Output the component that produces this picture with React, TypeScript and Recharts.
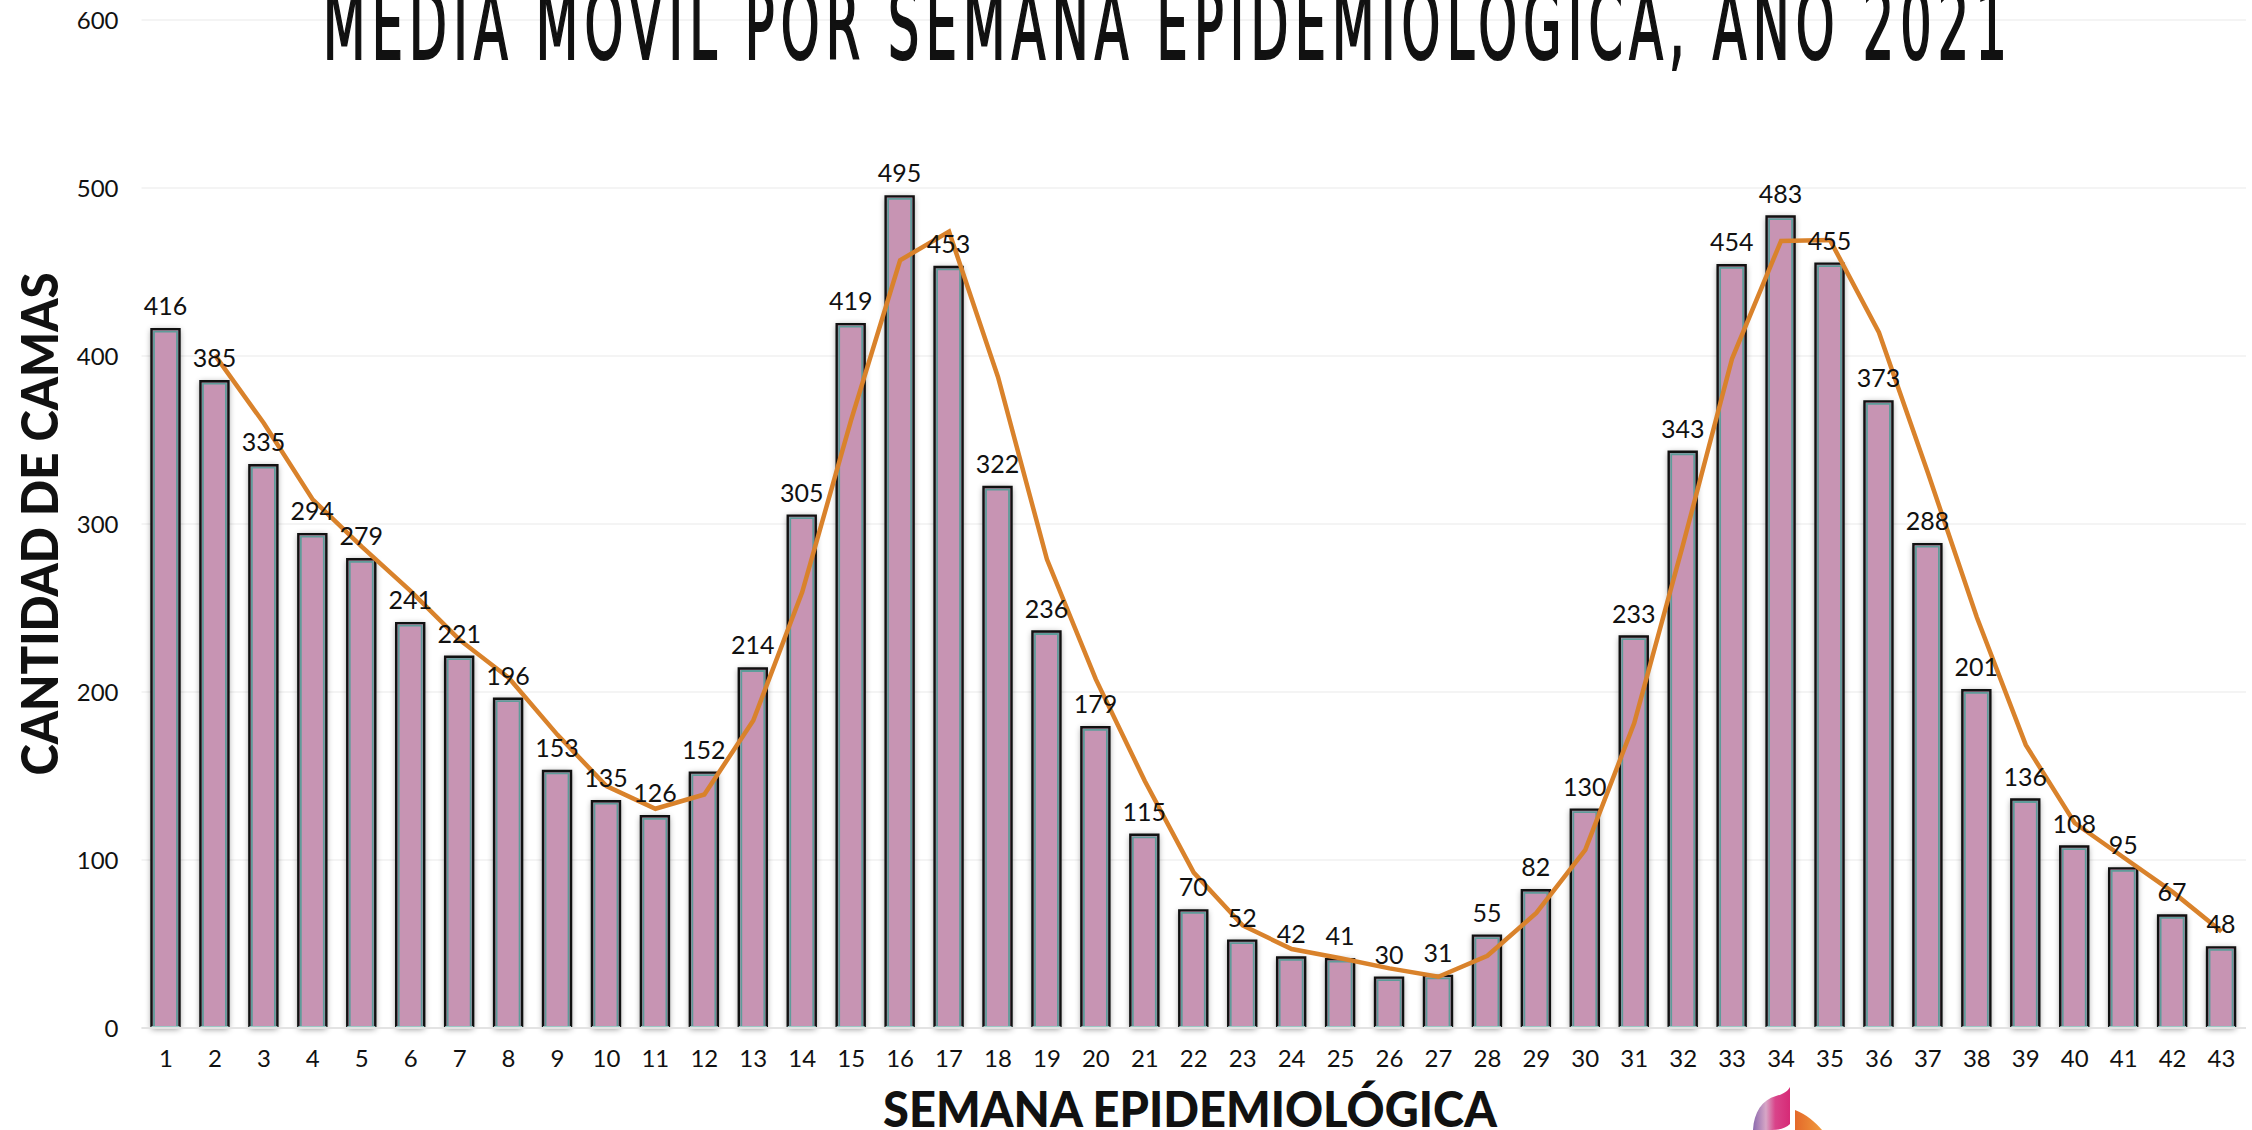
import { ComposedChart, Bar, Line, XAxis, YAxis, CartesianGrid, LabelList } from 'recharts'

// Semana epidemiológica 1..43
const weeks = [
  1, 2, 3, 4, 5, 6, 7, 8, 9, 10, 11, 12, 13, 14, 15, 16, 17, 18, 19, 20, 21, 22,
  23, 24, 25, 26, 27, 28, 29, 30, 31, 32, 33, 34, 35, 36, 37, 38, 39, 40, 41, 42, 43,
]

// Cantidad de camas por semana
const camas = [
  416, 385, 335, 294, 279, 241, 221, 196, 153, 135, 126, 152, 214, 305, 419, 495, 453, 322, 236, 179, 115, 70,
  52, 42, 41, 30, 31, 55, 82, 130, 233, 343, 454, 483, 455, 373, 288, 201, 136, 108, 95, 67, 48,
]

const mediaMovil = [
  null, 400.5, 360, 314.5, 286.5, 260, 231, 208.5, 174.5, 144, 130.5, 139, 183, 259.5, 362, 457, 474, 387.5,
  279, 207.5, 147, 92.5, 61, 47, 41.5, 35.5, 30.5, 43, 68.5, 106, 181.5, 288, 398.5, 468.5, 469, 414, 330.5,
  244.5, 168.5, 122, 101.5, 81, 57.5,
]

const yTicks = [0, 100, 200, 300, 400, 500, 600]

const data = weeks.map((w, i) => ({ week: w, camas: camas[i], media: mediaMovil[i] }))

const FONT = "Lato, 'Noto Sans', sans-serif"

function CamaBar(props: any) {
  const { x, y, width, height } = props
  if (!height || height <= 0) return null
  const b = y + height
  return (
    <g>
      <rect
        x={x}
        y={y}
        width={width}
        height={height}
        fill="#C794B3"
        style={{ filter: 'drop-shadow(0px 1px 3px rgba(0,0,0,0.45))' }}
      />
      <path
        d={`M${x + 2.5},${b} L${x + 2.5},${y + 2.5} L${x + width - 2.5},${y + 2.5} L${x + width - 2.5},${b}`}
        fill="none"
        stroke="#5E9C9A"
        strokeWidth={1.8}
      />
      <path
        d={`M${x},${b} L${x},${y} L${x + width},${y} L${x + width},${b}`}
        fill="none"
        stroke="#111"
        strokeWidth={2.4}
      />
      <line x1={x} x2={x + width} y1={b - 1} y2={b - 1} stroke="#9CC8C6" strokeWidth={2} />
    </g>
  )
}

export default function App() {
  return (
    <div
      style={{
        position: 'fixed',
        left: 0,
        top: 0,
        width: 2252,
        height: 1130,
        background: '#fff',
        overflow: 'hidden',
      }}
    >
      <ComposedChart
        width={2252}
        height={1130}
        data={data}
        margin={{ top: 20, right: 6, bottom: 72, left: 0 }}
      >
        <CartesianGrid vertical={false} stroke="#F1F1F1" strokeWidth={1.5} />
        <XAxis
          dataKey="week"
          height={30}
          tickLine={false}
          tickSize={0}
          tickMargin={22}
          axisLine={{ stroke: '#E3E3E3', strokeWidth: 2 }}
          tick={{ fill: '#111', fontSize: 24, fontFamily: FONT }}
          interval={0}
        />
        <YAxis
          width={141.5}
          domain={[0, 600]}
          ticks={yTicks}
          axisLine={false}
          tickLine={false}
          tickSize={0}
          tickMargin={23}
          tick={{ fill: '#111', fontSize: 24, fontFamily: FONT }}
        />
        <Bar dataKey="camas" barSize={28} shape={<CamaBar />} isAnimationActive={false}>
          <LabelList
            dataKey="camas"
            position="top"
            offset={14}
            fill="#111"
            fontSize={25}
            fontFamily={FONT}
          />
        </Bar>
        <Line
          type="linear"
          dataKey="media"
          stroke="#D9822B"
          strokeWidth={4.5}
          dot={false}
          activeDot={false}
          isAnimationActive={false}
        />
      </ComposedChart>
      <svg
        width={2252}
        height={1130}
        style={{ position: 'absolute', left: 0, top: 0, pointerEvents: 'none' }}
      >
        <defs>
          <linearGradient id="pinkLeaf" x1="0" x2="1" y1="0" y2="0">
            <stop offset="0" stopColor="#8B6AAE" />
            <stop offset="0.35" stopColor="#D7A6C6" />
            <stop offset="0.6" stopColor="#D9448A" />
            <stop offset="1" stopColor="#D62A76" />
          </linearGradient>
          <linearGradient id="orangeLeaf" x1="0" x2="1" y1="0" y2="0">
            <stop offset="0" stopColor="#E4682A" />
            <stop offset="1" stopColor="#F09A3C" />
          </linearGradient>
        </defs>
        <text
          x={1168}
          y={59}
          textAnchor="middle"
          fontFamily="'DejaVu Sans Condensed', 'Liberation Sans', sans-serif"
          fontWeight={400}
          fontSize={97}
          letterSpacing={11}
          textLength={1690}
          lengthAdjust="spacingAndGlyphs"
          fill="#111"
          stroke="#111"
          strokeWidth={2.2}
        >
          MEDIA MOVIL POR SEMANA EPIDEMIOLOGICA, AÑO 2021
        </text>
        <text
          x={1190}
          y={1127}
          textAnchor="middle"
          fontFamily={FONT}
          fontWeight={900}
          fontSize={49}
          textLength={614}
          lengthAdjust="spacingAndGlyphs"
          fill="#111"
        >
          SEMANA EPIDEMIOLÓGICA
        </text>
        <text
          transform="translate(58,524) rotate(-90)"
          x={0}
          y={0}
          textAnchor="middle"
          fontFamily={FONT}
          fontWeight={900}
          fontSize={52}
          textLength={503}
          lengthAdjust="spacingAndGlyphs"
          fill="#111"
        >
          CANTIDAD DE CAMAS
        </text>
        <path
          d="M1753,1130 C1754,1112 1762,1100 1776,1096 C1784,1094 1788,1091 1790,1087 L1790,1124 C1786,1128 1780,1130 1772,1130 Z"
          fill="url(#pinkLeaf)"
        />
        <path d="M1795,1110 C1806,1114 1815,1122 1822,1130 L1795,1130 Z" fill="url(#orangeLeaf)" />
      </svg>
    </div>
  )
}
